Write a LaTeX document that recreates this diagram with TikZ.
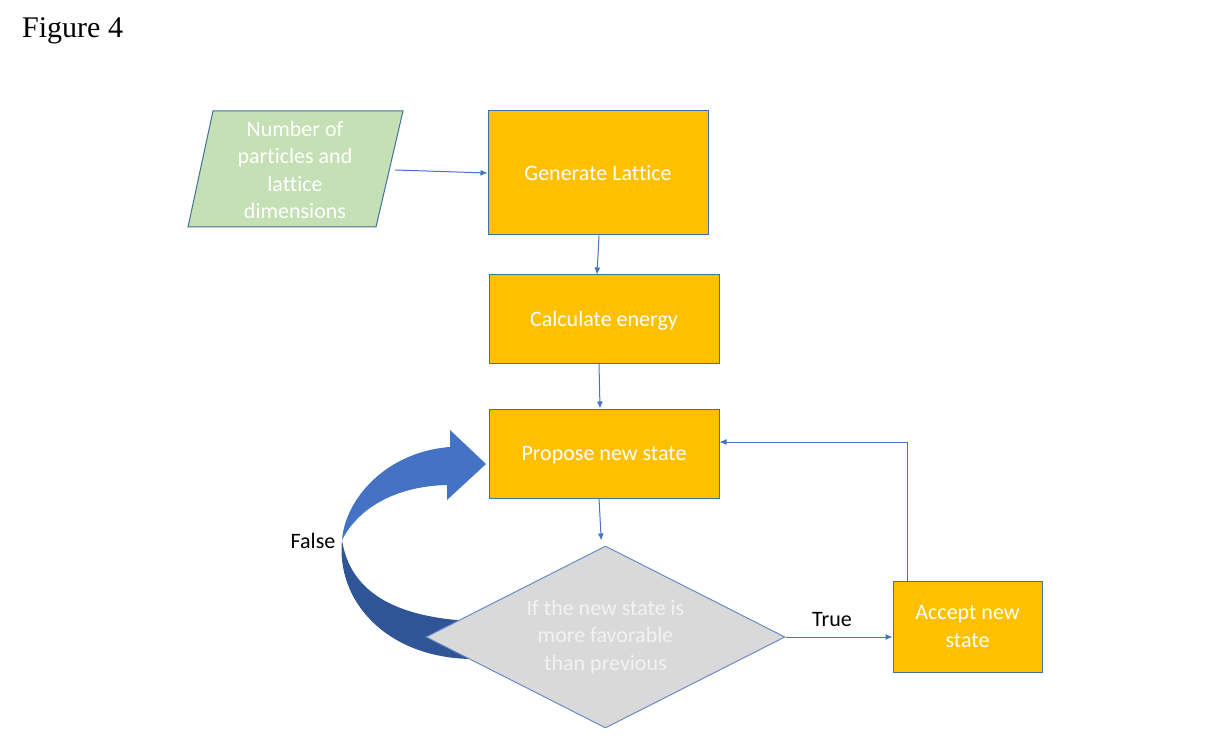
\documentclass[tikz,border=0pt]{standalone}
\usepackage{fontspec}
\setmainfont{Carlito}[Ligatures=NoCommon]
\newfontfamily\figfont{Liberation Serif}
\usetikzlibrary{shapes.geometric,arrows.meta}
\definecolor{boxgold}{HTML}{FFC000}
\definecolor{boxedge}{HTML}{41719C}
\definecolor{inputgreen}{HTML}{C5E0B4}
\definecolor{decgray}{HTML}{D9D9D9}
\definecolor{decedge}{HTML}{6A8AC7}
\definecolor{linkblue}{HTML}{4472C4}
\definecolor{bandlight}{HTML}{4472C4}
\definecolor{banddark}{HTML}{2F5597}
\definecolor{dectext}{HTML}{F2F2F2}
\begin{document}
\begin{tikzpicture}[x=1pt,y=-1pt,
  txt/.style={font=\fontsize{22}{27.5}\selectfont, align=center},
  procbox/.style={txt, rectangle, draw=boxedge, line width=1pt, fill=boxgold, text=white, inner sep=0pt, text depth=0pt},
  link/.style={draw=linkblue, line width=1pt, -{Latex[length=7pt,width=6pt]}},
  lbl/.style={txt, text=black, inner sep=0pt}
]
\useasboundingbox (0,0) rectangle (1210,751);

% title
\node[anchor=west, inner sep=0pt, font=\figfont\fontsize{30}{34}\selectfont] (title) at (22,31) {Figure 4};

% input parallelogram
\filldraw[fill=inputgreen, draw=boxedge, line width=1pt] (213,111) -- (403,111) -- (376,227) -- (188,227) -- cycle;
\node[txt, text=white, minimum width=200pt, inner sep=0pt] (inp) at (295,170) {Number of\\particles and\\lattice\\dimensions};

% process boxes
\node[procbox, minimum width=220pt, minimum height=124pt] (gen) at (598,173) {Generate Lattice};
\node[procbox, minimum width=230pt, minimum height=88pt] (calc) at (604,319) {Calculate energy};
\node[procbox, minimum width=230pt, minimum height=89pt] (prop) at (604,453.5) {Propose new state};
\node[procbox, minimum width=149pt, minimum height=91pt] (acc) at (967.5,626.5) {Accept new\\state};

% big curved "False" arrow
\fill[banddark] (342,540) .. controls (336,600) and (385,657) .. (470,659)
  -- (470,621) .. controls (395,617) and (350,592) .. (342,540) -- cycle;
\fill[bandlight] (342,540) .. controls (345,500) and (385,452) .. (450,447)
  -- (450,430) -- (486,464) -- (447,500) -- (447,485)
  .. controls (400,486) and (360,505) .. (342,540) -- cycle;

% decision diamond
\node[diamond, draw=decedge, line width=1pt, fill=decgray, text=dectext, txt,
      minimum width=359pt, minimum height=182pt, inner sep=0pt, aspect=1.97] (dec) at (605.5,637) {If the new state is\\more favorable\\than previous};

% connectors
\draw[link] (inp.east) -- (gen.west);
\draw[link] ([xshift=1pt]gen.south) -- ([xshift=-7pt]calc.north);
\draw[link] ([xshift=-5pt]calc.south) -- ([xshift=-4pt]prop.north);
\draw[link, shorten >=5pt] ([xshift=-5pt]prop.south) -- ([xshift=-4pt]dec.north);
\draw[link] (dec.east) -- (dec.east -| acc.west);
\draw[link] ([xshift=-60.5pt]acc.north) |- ([yshift=11.5pt]prop.east);

% labels
\node[lbl] (truelbl) at (832,620) {True};
\node[lbl] (falselbl) at (313,541) {False};
\end{tikzpicture}
\end{document}
